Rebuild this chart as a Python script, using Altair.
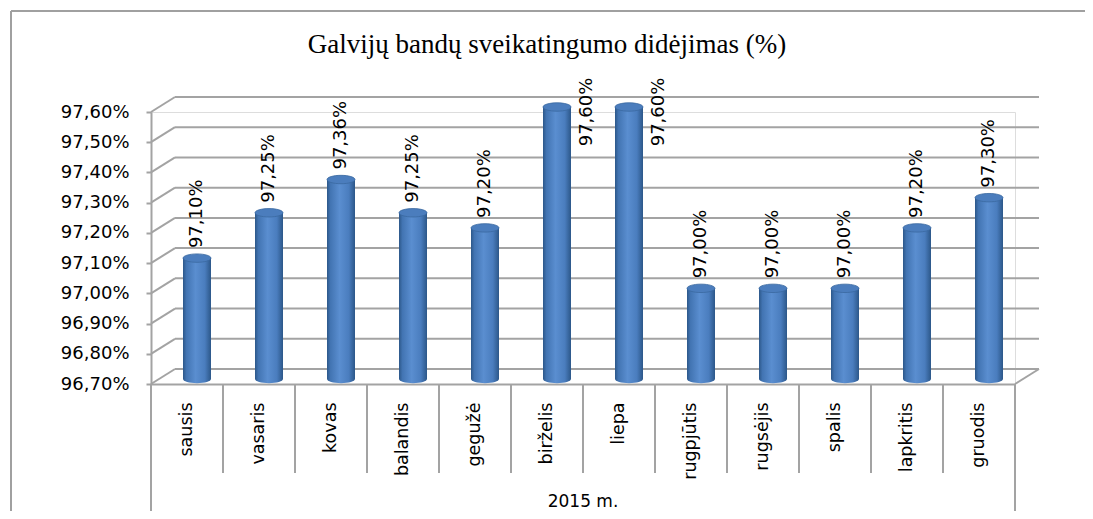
import altair as alt
import pandas as pd

# ---- data ----
months = ["sausis", "vasaris", "kovas", "balandis", "gegužė", "birželis",
          "liepa", "rugpjūtis", "rugsėjis", "spalis", "lapkritis", "gruodis"]
values = [97.10, 97.25, 97.36, 97.25, 97.20, 97.60,
          97.60, 97.00, 97.00, 97.00, 97.20, 97.30]
tick_values = [96.7, 96.8, 96.9, 97.0, 97.1, 97.2, 97.3, 97.4, 97.5, 97.6]
title_text = "Galvijų bandų sveikatingumo didėjimas (%)"
group_label = "2015 m."

bars_df = pd.DataFrame({"m": months, "v": values})
ticks_df = pd.DataFrame({"t": tick_values})
one = pd.DataFrame({"k": [0]})

W, H = 864, 272
DX, DY = 24, -15          # depth offset of the back wall
GRID = "#a3a3a3"
FONT = "DejaVu Sans"

yscale = alt.Scale(domain=[96.7, 97.6], nice=False, zero=False)
xscale = alt.Scale(paddingInner=0, paddingOuter=0)
fmt = "replace(format(datum.value, '.2f'), '.', ',') + '%'"

XAX = alt.Axis(labelAngle=-90, ticks=False, labelPadding=18, title=None,
               labelFont=FONT, labelFontSize=17.5, labelColor="black",
               domainColor=GRID, domainWidth=2)
YAX = alt.Axis(values=tick_values, labelExpr=fmt, grid=False, title=None,
               tickSize=5, tickColor=GRID, tickWidth=2,
               domainColor=GRID, domainWidth=2, labelPadding=17,
               labelFont=FONT, labelFontSize=18, labelColor="black")


def xenc(**kw):
    return alt.X("m:N", sort=months, scale=xscale, axis=XAX, title=None, **kw)


def yenc(field):
    return alt.Y(field, scale=yscale, axis=YAX, title=None)


grad = alt.Gradient(
    gradient="linear", x1=0, x2=1, y1=0, y2=0,
    stops=[
        alt.GradientStop(offset=0, color="#2c5789"),
        alt.GradientStop(offset=0.12, color="#4274b2"),
        alt.GradientStop(offset=0.45, color="#5a8ed0"),
        alt.GradientStop(offset=0.78, color="#4a7dbe"),
        alt.GradientStop(offset=1, color="#2c5789"),
    ],
)
ellipse = "M-1,0 A1,0.3 0 1,1 1,0 A1,0.3 0 1,1 -1,0 Z"

# outer frame
frame_left = alt.Chart(one).mark_rule(color="#a0a0a0", strokeWidth=2).encode(
    x=alt.value(-140), y=alt.value(-101), y2=alt.value(399))
frame_top = alt.Chart(one).mark_rule(color="#a0a0a0", strokeWidth=2).encode(
    x=alt.value(-140), x2=alt.value(934), y=alt.value(-101))

# back wall gridlines
grid = alt.Chart(ticks_df).mark_rule(color=GRID, strokeWidth=2, yOffset=DY).encode(
    x=alt.value(DX), x2=alt.value(W + DX), y=yenc("t:Q"))
# side wall diagonals
diag = alt.Chart(ticks_df).mark_rule(color=GRID, strokeWidth=2, y2Offset=DY).encode(
    x=alt.value(0), x2=alt.value(DX), y=yenc("t:Q"), y2="t:Q")
floor_diag = alt.Chart(one).mark_rule(color=GRID, strokeWidth=2).encode(
    x=alt.value(W), x2=alt.value(W + DX), y=alt.value(H), y2=alt.value(H + DY))

# category separators
seps = alt.Chart(bars_df).mark_rule(color=GRID, strokeWidth=2).encode(
    x=xenc(bandPosition=0), y=alt.value(H), y2=alt.value(361))
edge_l = alt.Chart(one).mark_rule(color=GRID, strokeWidth=2).encode(
    x=alt.value(0), y=alt.value(H), y2=alt.value(399))
edge_r = alt.Chart(one).mark_rule(color=GRID, strokeWidth=2).encode(
    x=alt.value(W), y=alt.value(H), y2=alt.value(399))

OX, OY = 10, -5
bottom_cap = alt.Chart(bars_df).transform_calculate(b="96.7").mark_point(
    shape=ellipse, size=784, filled=True, opacity=1, color=grad,
    xOffset=OX, yOffset=OY).encode(x=xenc(), y=yenc("b:Q"))
bars = alt.Chart(bars_df).mark_bar(
    color=grad, width=28, xOffset=OX, yOffset=OY, y2Offset=OY).encode(
    x=xenc(), y=yenc("v:Q"), y2=alt.datum(96.7))
top_cap = alt.Chart(bars_df).mark_point(
    shape=ellipse, size=784, filled=True, opacity=1, fill="#4b7dbd",
    stroke="#3a689f", strokeWidth=0.8, xOffset=OX, yOffset=OY).encode(
    x=xenc(), y=yenc("v:Q"))

lab_expr = "replace(format(datum.v, '.2f'), '.', ',') + '%'"
labels = alt.Chart(bars_df).transform_filter("datum.v < 97.6").transform_calculate(
    lab=lab_expr).mark_text(
    angle=270, align="left", baseline="middle", font=FONT, fontSize=18,
    color="black", xOffset=OX, yOffset=-15).encode(
    x=xenc(), y=yenc("v:Q"), text="lab:N")
labels_top = alt.Chart(bars_df).transform_filter("datum.v >= 97.6").transform_calculate(
    lab=lab_expr).mark_text(
    angle=270, align="center", baseline="middle", font=FONT, fontSize=18,
    color="black", xOffset=40, yOffset=0).encode(
    x=xenc(), y=yenc("v:Q"), text="lab:N")

title = alt.Chart(one).mark_text(
    font="Liberation Serif", fontSize=27, color="black", align="center",
    baseline="alphabetic").encode(
    x=alt.value(396), y=alt.value(-59), text=alt.value(title_text))
group = alt.Chart(one).mark_text(
    font=FONT, fontSize=17, color="black", align="center",
    baseline="alphabetic").encode(
    x=alt.value(W / 2), y=alt.value(395), text=alt.value(group_label))

chart = alt.layer(
    frame_left, frame_top, grid, diag, floor_diag, seps, edge_l, edge_r,
    bottom_cap, bars, top_cap, labels, labels_top, title, group
).properties(
    width=W, height=H,
    padding={"left": 143, "top": 104, "right": 70, "bottom": 127},
    autosize=alt.AutoSizeParams(type="none"),
).configure_view(stroke=None).configure(background="white")

chart.save("out.html", embed_options={"renderer": "svg", "actions": False})
